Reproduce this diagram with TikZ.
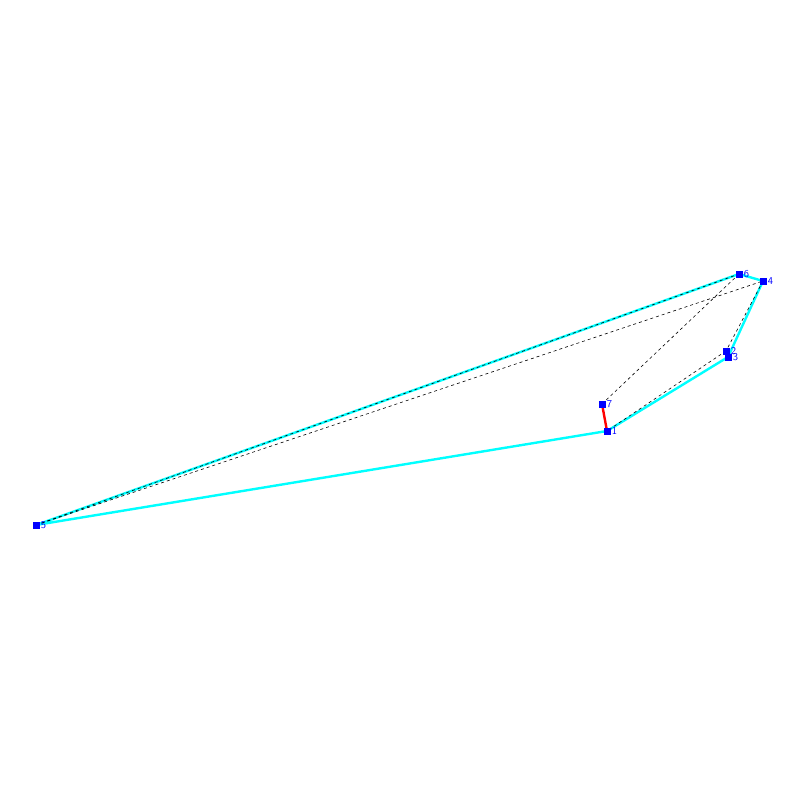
\documentclass[tikz,border=0pt]{standalone}
\usepackage{tikz}
\definecolor{aqua}{RGB}{0,255,255}
\definecolor{pureblue}{RGB}{0,0,255}
\definecolor{purered}{RGB}{255,0,0}
\tikzset{
  vert/.style={fill=pureblue, inner sep=0pt, minimum size=7pt},
  vlabel/.style={font=\sffamily\fontsize{10.5}{10.5}\selectfont, text=pureblue, anchor=west, inner sep=1pt},
  hull/.style={aqua, line width=2.4pt},
  chord/.style={black, dashed, line width=0.6pt},
  bad/.style={purered, line width=2.4pt}
}
\begin{document}
\begin{tikzpicture}[x=1pt,y=-1pt]
\useasboundingbox (0,0) rectangle (800,800);
\coordinate (p1) at (607,431);
\coordinate (p2) at (726,351);
\coordinate (p3) at (728,357);
\coordinate (p4) at (763,281);
\coordinate (p5) at (36,525);
\coordinate (p6) at (739,274);
\coordinate (p7) at (602,404);
\draw[hull] (p5) -- (p1) -- (p3) -- (p4) -- (p6) -- (p5);
\draw[chord] (p5) -- (p6);
\draw[chord] (p5) -- (p4);
\draw[chord] (p6) -- (p7);
\draw[chord] (p4) -- (p2);
\draw[chord] (p2) -- (p1);
\draw[bad] (p7) -- (p1);
\foreach \i in {1,...,7}{
  \node[vert] (v\i) at (p\i) {};
  \node[vlabel] at (v\i.east) {\i};
}
\end{tikzpicture}
\end{document}
